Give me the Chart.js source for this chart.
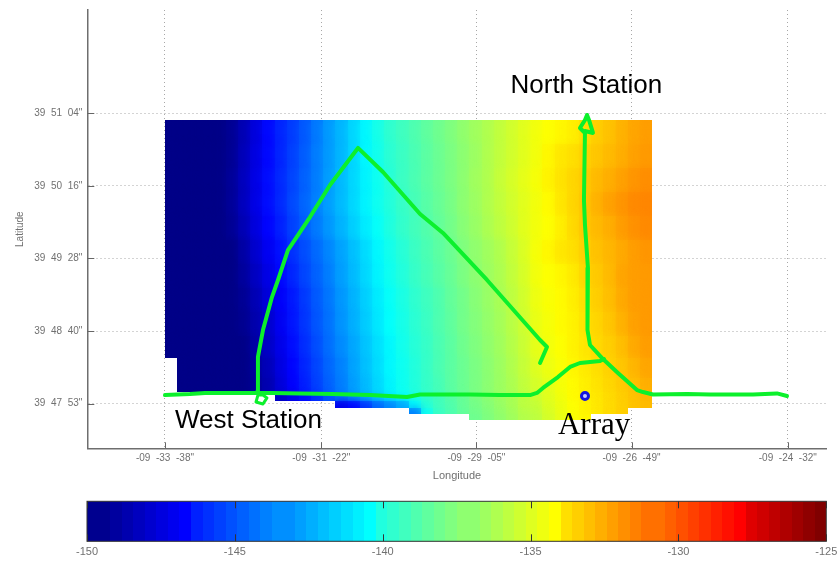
<!DOCTYPE html>
<html>
<head>
<meta charset="utf-8">
<title>Transmission loss map</title>
<script src="https://cdn.jsdelivr.net/npm/chart.js@4/dist/chart.umd.min.js"></script>
<style>
  html, body { margin: 0; padding: 0; background: #fff; }
  body { position: relative; width: 838px; height: 563px; overflow: hidden; }
  canvas { position: absolute; left: 0; filter: blur(0.4px); }
  #map { top: 0; }
  #colorbar { top: 483px; }
</style>
</head>
<body>
<canvas id="map" width="838" height="483"></canvas>
<canvas id="colorbar" width="838" height="80"></canvas>
<script>
// all positions are in arc seconds: longitude from -9 deg, latitude from 39 deg
const lonTicks = [-2018, -1881, -1745, -1609, -1472];
const lonLabels = ['-09  -33  -38"', '-09  -31  -22"', '-09  -29  -05"', '-09  -26  -49"', '-09  -24  -32"'];
const latTicks = [3064, 3016, 2968, 2920, 2872];
const latLabels = ['39  51  04"', '39  50  16"', '39  49  28"', '39  48  40"', '39  47  53"'];
const colorTicks = [-150, -145, -140, -135, -130, -125];

// field cells: 40 columns wide, row edges are not even because of the stepped lower edge
const lonStart = -2018;
const lonStep = 10.675;
const latEdges = [3059.6, 3043.7, 3027.9, 3012, 2996.1, 2980.2, 2964.3, 2948.5, 2932.6, 2916.7, 2902.2, 2889, 2879.7, 2873.8, 2869.1, 2865.2, 2861.2];
const _ = null;
const fieldRows = [
  [-150,-150,-150,-150,-150,-149.7,-148.9,-147.9,-146.9,-146.2,-145.6,-144.9,-144.1,-143.3,-142.6,-141.8,-141.0,-140.3,-139.7,-139.3,-138.9,-138.5,-138.1,-137.7,-137.3,-136.9,-136.5,-136.1,-135.7,-135.3,-134.9,-134.6,-134.4,-134.2,-133.8,-133.4,-133.1,-132.7,-132.4,-132.2],
  [-150,-150,-150,-150,-150,-149.7,-148.8,-147.8,-146.9,-146.2,-145.5,-144.8,-144.0,-143.3,-142.6,-141.8,-141.0,-140.4,-139.8,-139.4,-139.0,-138.6,-138.2,-137.8,-137.4,-137.0,-136.5,-136.1,-135.7,-135.3,-134.9,-134.4,-134.0,-133.8,-133.5,-133.2,-132.9,-132.6,-132.3,-132.1],
  [-150,-150,-150,-150,-150,-149.6,-148.7,-147.7,-146.8,-146.1,-145.4,-144.7,-144.0,-143.2,-142.5,-141.8,-141.1,-140.5,-139.9,-139.4,-139.0,-138.6,-138.2,-137.8,-137.4,-136.9,-136.5,-136.0,-135.6,-135.2,-134.8,-134.3,-133.9,-133.6,-133.3,-132.9,-132.6,-132.3,-132.0,-131.8],
  [-150,-150,-150,-150,-150,-149.6,-148.7,-147.7,-146.8,-146.1,-145.3,-144.6,-143.9,-143.2,-142.5,-141.8,-141.1,-140.5,-140.0,-139.5,-139.1,-138.7,-138.3,-137.9,-137.4,-137.0,-136.5,-136.1,-135.7,-135.3,-134.9,-134.5,-134.0,-133.6,-133.2,-132.7,-132.3,-132.0,-131.7,-131.6],
  [-150,-150,-150,-150,-150,-149.7,-148.9,-147.9,-147.0,-146.3,-145.5,-144.8,-144.1,-143.4,-142.7,-142.0,-141.3,-140.7,-140.1,-139.6,-139.2,-138.8,-138.4,-138.0,-137.5,-137.1,-136.6,-136.2,-135.8,-135.3,-134.9,-134.6,-134.2,-133.7,-133.2,-132.9,-132.6,-132.2,-131.9,-131.7],
  [-150,-150,-150,-150,-150,-150,-149.3,-148.3,-147.4,-146.7,-145.9,-145.2,-144.5,-143.8,-143.1,-142.4,-141.7,-141.0,-140.4,-139.9,-139.4,-139.0,-138.6,-138.2,-137.7,-137.3,-136.9,-136.5,-136.0,-135.5,-134.8,-134.4,-134.0,-133.8,-133.4,-133.1,-132.8,-132.5,-132.2,-132.0],
  [-150,-150,-150,-150,-150,-150,-149.5,-148.6,-147.7,-146.9,-146.2,-145.4,-144.7,-144.0,-143.2,-142.5,-141.8,-141.1,-140.5,-140.0,-139.5,-139.1,-138.7,-138.3,-137.8,-137.4,-137.0,-136.6,-136.1,-135.6,-134.9,-134.6,-134.4,-134.1,-133.6,-133.3,-132.9,-132.4,-132.2,-132.1],
  [-150,-150,-150,-150,-150,-150,-149.7,-148.9,-148.0,-147.2,-146.5,-145.7,-144.9,-144.2,-143.4,-142.7,-142.0,-141.3,-140.7,-140.2,-139.7,-139.3,-138.9,-138.4,-138.0,-137.5,-137.1,-136.7,-136.2,-135.7,-135.0,-134.7,-134.5,-134.2,-133.8,-133.4,-133.0,-132.5,-132.2,-132.1],
  [-150,-150,-150,-150,-150,-150,-149.8,-149.1,-148.3,-147.4,-146.6,-145.8,-145.0,-144.3,-143.5,-142.8,-142.1,-141.4,-140.8,-140.3,-139.8,-139.4,-138.9,-138.5,-138.0,-137.6,-137.2,-136.8,-136.3,-135.8,-135.1,-134.8,-134.5,-134.3,-133.9,-133.6,-133.2,-132.7,-132.3,-132.1],
  [-150,-150,-150,-150,-150,-150,-150,-149.3,-148.5,-147.6,-146.8,-146.0,-145.2,-144.4,-143.7,-143.0,-142.3,-141.6,-141.0,-140.4,-139.9,-139.5,-139.0,-138.6,-138.1,-137.7,-137.3,-136.9,-136.4,-135.9,-135.2,-134.9,-134.6,-134.3,-134.0,-133.7,-133.4,-133.0,-132.5,-132.2],
  [_,-150,-150,-150,-150,-150,-150,-149.5,-148.8,-147.8,-147.0,-146.2,-145.4,-144.6,-143.9,-143.1,-142.4,-141.7,-141.0,-140.5,-140.0,-139.5,-139.0,-138.6,-138.2,-137.8,-137.4,-137.0,-136.5,-136.0,-135.4,-135.0,-134.7,-134.4,-134.1,-133.8,-133.5,-133.2,-132.8,-132.4],
  [_,-150,-150,-150,-150,-150,-150,-149.6,-149.0,-148.0,-147.1,-146.3,-145.5,-144.7,-144.0,-143.2,-142.5,-141.8,-141.1,-140.5,-140.0,-139.5,-139.1,-138.6,-138.2,-137.8,-137.4,-137.0,-136.6,-136.1,-135.6,-135.2,-134.8,-134.5,-134.2,-133.9,-133.6,-133.3,-133.0,-132.6],
  [_,_,_,_,_,_,_,_,_,-148.5,-147.6,-146.8,-146.0,-145.0,-144.2,-143.4,-142.6,-141.9,-141.2,-140.6,-140.2,-139.6,-139.2,-138.7,-138.3,-137.8,-137.4,-137.0,-136.7,-136.2,-135.8,-135.3,-134.9,-134.5,-134.2,-134.0,-133.7,-133.4,-133.1,-132.8],
  [_,_,_,_,_,_,_,_,_,_,_,_,_,_,-147.5,-147.0,-145.8,-144.6,-143.8,-143.0,-140.8,-139.8,-139.2,-138.8,-138.3,-137.9,-137.5,-137.1,-136.7,-136.2,-136.0,-135.4,-135.0,-134.6,-134.3,-134.0,-133.7,-133.4,-133.1,-132.9],
  [_,_,_,_,_,_,_,_,_,_,_,_,_,_,_,_,_,_,_,_,-144.0,-140.5,-139.4,-138.9,-138.4,-138.0,-137.6,-137.2,-136.8,-136.3,-136.1,-135.5,-135.0,-134.6,-134.3,-134.0,-133.7,-133.4,_,_],
  [_,_,_,_,_,_,_,_,_,_,_,_,_,_,_,_,_,_,_,_,_,_,_,_,_,-138.1,-137.7,-137.3,-136.9,-136.4,-136.2,-135.6,-135.1,-134.7,-134.4,_,_,_,_,_],
];

// survey track
const eastWestLon = [-2018, -1996.1, -1982.9, -1961, -1937.3, -1924.2, -1899.6, -1870.7, -1838.3, -1805.8, -1794.4, -1750.6, -1724.3, -1698, -1691.9, -1686.6, -1673.5, -1662.9, -1654.2, -1636.6, -1633.1];
const eastWestLat = [2877.7, 2878.4, 2879.1, 2879.1, 2879.1, 2879.1, 2878.8, 2878.4, 2877.7, 2876.4, 2878.1, 2878.1, 2877.7, 2877.7, 2879.1, 2882.4, 2889.6, 2896.3, 2898.9, 2900.2, 2901.5];
const northLon = [-1649.8, -1654.2, -1649.8, -1648, -1646.3, -1642.8, -1649.8, -1650.7, -1649.8, -1647.2, -1648, -1647.2, -1645.4, -1634, -1620.9, -1604.2, -1598.9, -1590.2, -1560.4, -1540.2, -1502.5, -1481.5, -1472.7];
const northLat = [3051, 3054.3, 3059.6, 3062.9, 3059.6, 3051, 3052.3, 3006.7, 2990.1, 2961.7, 2940.6, 2920.7, 2910.8, 2901.5, 2892.3, 2881, 2879.7, 2878.1, 2878.4, 2878.1, 2878.1, 2878.8, 2877.1];
const triangleLon = [-1937.3, -1936.5, -1932.1, -1924.2, -1918.9, -1910.2, -1901.4, -1890.9, -1873.3, -1848.8, -1826.9, -1794.4, -1774.3, -1735.7, -1689.2, -1683.1, -1689.2];
const triangleLat = [2879.7, 2902.9, 2920.7, 2942.5, 2953.8, 2973.6, 2983.5, 2995.4, 3016.6, 3041.1, 3025.2, 2997.4, 2984.9, 2953.8, 2914.1, 2909.5, 2898.9];
const westLoopLon = [-1936.5, -1938.2, -1932.1, -1928.6, -1932.1, -1936.5];
const westLoopLat = [2877.7, 2873.1, 2871.8, 2875.8, 2877.7, 2877.7];
const arrayLon = [-1649.8];
const arrayLat = [2877.1];

const placeNames = ["North Station", "West Station", "Array"];
const placeLon = [-1715.1, -2009.2, -1673.5];
const placeLat = [3077.6, 2855.9, 2851.8];
const placeFonts = ['26px "Liberation Sans"', '26px "Liberation Sans"', '31px "Liberation Serif"'];

// one value per band of the colour bar
const colorLevels = [-150,-149.61,-149.22,-148.83,-148.44,-148.05,-147.66,-147.27,-146.88,-146.48,-146.09,-145.70,-145.31,-144.92,-144.53,-144.14,-143.75,-143.36,-142.97,-142.58,-142.19,-141.80,-141.41,-141.02,-140.63,-140.23,-139.84,-139.45,-139.06,-138.67,-138.28,-137.89,-137.50,-137.11,-136.72,-136.33,-135.94,-135.55,-135.16,-134.77,-134.38,-133.98,-133.59,-133.20,-132.81,-132.42,-132.03,-131.64,-131.25,-130.86,-130.47,-130.08,-129.69,-129.30,-128.91,-128.52,-128.13,-127.73,-127.34,-126.95,-126.56,-126.17,-125.78,-125.39];

const toPoints = (xs, ys) => xs.map((x, i) => ({ x: x, y: ys[i] }));

// matlab jet. t runs 0..1, the colour bar passes the 64 step value, the field the plain one
function jetColor(t) {
  const part = (a, b) => Math.round(255 * Math.max(0, Math.min(1, Math.min(a, b))));
  return `rgb(${part(4 * t - 1.5, -4 * t + 4.5)},${part(4 * t - 0.5, -4 * t + 3.5)},${part(4 * t + 0.5, -4 * t + 2.5)})`;
}
const bandColor = (value) => jetColor((Math.max(0, Math.min(63, Math.floor(((value + 150) / 25) * 64))) + 1) / 64);
const fieldColor = (value) => jetColor((value + 150) / 25 + 0.5 / 64);

function drawFieldCells(ctx, x, y) {
  fieldRows.forEach((row, r) => {
    const top = Math.round(y.getPixelForValue(latEdges[r]));
    const bottom = Math.round(y.getPixelForValue(latEdges[r + 1]));
    row.forEach((value, c) => {
      if (value === null) return;
      const left = Math.round(x.getPixelForValue(lonStart + c * lonStep));
      const right = Math.round(x.getPixelForValue(lonStart + (c + 1) * lonStep));
      ctx.fillStyle = fieldColor(value);
      ctx.fillRect(left, top, right - left, bottom - top);
    });
  });
}

const fieldPlugin = {
  id: "field",
  beforeDatasetsDraw(chart) {
    const { x, y } = chart.scales;
    // soften the cell edges, then cut back to the cells so the stepped outline stays sharp
    const soft = document.createElement("canvas");
    soft.width = chart.width;
    soft.height = chart.height;
    const softCtx = soft.getContext("2d");
    softCtx.filter = "blur(4px)";
    drawFieldCells(softCtx, x, y);
    const mask = document.createElement("canvas");
    mask.width = chart.width;
    mask.height = chart.height;
    const maskCtx = mask.getContext("2d");
    drawFieldCells(maskCtx, x, y);
    maskCtx.globalCompositeOperation = "source-atop";
    maskCtx.drawImage(soft, 0, 0);
    chart.ctx.drawImage(mask, 0, 0);
  },
};

// matlab ticks point inwards, chart.js does not do that on its own
const inwardTicksPlugin = {
  id: "inwardTicks",
  afterDraw(chart) {
    const { x, y } = chart.scales;
    const ctx = chart.ctx;
    ctx.save();
    ctx.strokeStyle = "#666";
    ctx.lineWidth = 1;
    ctx.beginPath();
    x.ticks.forEach((tick) => {
      const px = Math.round(x.getPixelForValue(tick.value)) + 0.5;
      ctx.moveTo(px, chart.chartArea.bottom);
      ctx.lineTo(px, chart.chartArea.bottom - 6);
    });
    y.ticks.forEach((tick) => {
      const py = Math.round(y.getPixelForValue(tick.value)) + 0.5;
      ctx.moveTo(chart.chartArea.left, py);
      ctx.lineTo(chart.chartArea.left + 7, py);
    });
    ctx.stroke();
    ctx.restore();
  },
};

const placeNamesPlugin = {
  id: "placeNames",
  afterDraw(chart) {
    const { x, y } = chart.scales;
    const ctx = chart.ctx;
    ctx.save();
    ctx.fillStyle = "#000";
    ctx.textAlign = "left";
    ctx.textBaseline = "alphabetic";
    placeNames.forEach((name, i) => {
      ctx.font = placeFonts[i];
      ctx.fillText(name, x.getPixelForValue(placeLon[i]), y.getPixelForValue(placeLat[i]));
    });
    ctx.restore();
  },
};

const trackStyle = {
  showLine: true,
  borderColor: "#0cf02c",
  borderWidth: 4,
  pointRadius: 0,
  borderJoinStyle: "round",
  borderCapStyle: "round",
  tension: 0,
  order: 2,
};

new Chart(document.getElementById("map"), {
  type: "scatter",
  data: {
    datasets: [
      { label: "East-west leg", data: toPoints(eastWestLon, eastWestLat), ...trackStyle },
      { label: "North leg", data: toPoints(northLon, northLat), ...trackStyle },
      { label: "Triangle leg", data: toPoints(triangleLon, triangleLat), ...trackStyle },
      { label: "West loop", data: toPoints(westLoopLon, westLoopLat), ...trackStyle, borderWidth: 3 },
      {
        label: "Array",
        data: toPoints(arrayLon, arrayLat),
        pointRadius: 3.5,
        pointBackgroundColor: "#c8ccff",
        pointBorderColor: "#1414e0",
        pointBorderWidth: 3,
        order: 1,
      },
    ],
  },
  options: {
    responsive: false,
    animation: false,
    layout: { padding: { left: 0, right: 11.3, top: 10, bottom: 0 } },
    plugins: { legend: { display: false }, tooltip: { enabled: false } },
    scales: {
      x: {
        type: "linear",
        min: -2086.1,
        max: -1437.9,
        afterBuildTicks: (axis) => { axis.ticks = lonTicks.map((v) => ({ value: v })); },
        afterFit: (axis) => { axis.height = 34.7; axis.paddingLeft = 0; axis.paddingRight = 0; },
        grid: { color: "#a8a8a8", drawTicks: false },
        border: { display: true, color: "#6e6e6e", width: 1.5, dash: [1, 3] },
        ticks: {
          autoSkip: false,
          maxRotation: 0,
          padding: 4,
          color: "#707070",
          font: { family: "Liberation Sans", size: 10 },
          callback: (value, i) => lonLabels[i],
        },
        title: {
          display: true,
          text: "Longitude",
          color: "#707070",
          font: { family: "Liberation Sans", size: 11 },
          padding: 0,
        },
      },
      y: {
        type: "linear",
        min: 2842.5,
        max: 3132.3,
        afterBuildTicks: (axis) => { axis.ticks = latTicks.map((v) => ({ value: v })); },
        afterFit: (axis) => { axis.width = 87.3; axis.paddingTop = 0; axis.paddingBottom = 0; },
        grid: { color: "#a8a8a8", drawTicks: false },
        border: { display: true, color: "#6e6e6e", width: 1.5, dash: [1, 3] },
        ticks: {
          autoSkip: false,
          padding: 5,
          color: "#707070",
          font: { family: "Liberation Sans", size: 10 },
          callback: (value, i) => latLabels[i],
        },
        title: {
          display: true,
          text: "Latitude",
          color: "#707070",
          font: { family: "Liberation Sans", size: 10 },
          padding: { top: 14, bottom: 0 },
        },
      },
    },
  },
  plugins: [fieldPlugin, inwardTicksPlugin, placeNamesPlugin],
});

const colorBandsPlugin = {
  id: "colorBands",
  beforeDatasetsDraw(chart) {
    const { x } = chart.scales;
    const { top, bottom, left, right } = chart.chartArea;
    const ctx = chart.ctx;
    ctx.save();
    colorLevels.forEach((level, i) => {
      const next = i + 1 < colorLevels.length ? colorLevels[i + 1] : x.max;
      const l = Math.round(x.getPixelForValue(level));
      const r = Math.round(x.getPixelForValue(next));
      ctx.fillStyle = bandColor(level);
      ctx.fillRect(l, top, r - l, bottom - top);
    });
    ctx.strokeStyle = "#333";
    ctx.lineWidth = 1;
    ctx.strokeRect(left, top, right - left, bottom - top);
    ctx.beginPath();
    x.ticks.forEach((tick) => {
      const px = Math.round(x.getPixelForValue(tick.value)) + 0.5;
      ctx.moveTo(px, top);
      ctx.lineTo(px, top + 7);
      ctx.moveTo(px, bottom);
      ctx.lineTo(px, bottom - 7);
    });
    ctx.stroke();
    ctx.restore();
  },
};

new Chart(document.getElementById("colorbar"), {
  type: "scatter",
  data: { datasets: [{ label: "Level", data: colorLevels.map((v) => ({ x: v, y: 0 })), pointRadius: 0 }] },
  options: {
    responsive: false,
    animation: false,
    layout: { padding: { left: 87, right: 11.7, top: 18.3, bottom: 0 } },
    plugins: { legend: { display: false }, tooltip: { enabled: false } },
    scales: {
      x: {
        type: "linear",
        min: -150,
        max: -125,
        afterBuildTicks: (axis) => { axis.ticks = colorTicks.map((v) => ({ value: v })); },
        afterFit: (axis) => { axis.height = 21.7; axis.paddingLeft = 0; axis.paddingRight = 0; },
        grid: { display: false, drawTicks: false },
        border: { display: false },
        ticks: {
          autoSkip: false,
          maxRotation: 0,
          padding: 4,
          color: "#707070",
          font: { family: "Liberation Sans", size: 11 },
          callback: (value) => String(value),
        },
      },
      y: { display: false, min: -1, max: 1 },
    },
  },
  plugins: [colorBandsPlugin],
});
</script>
</body>
</html>
